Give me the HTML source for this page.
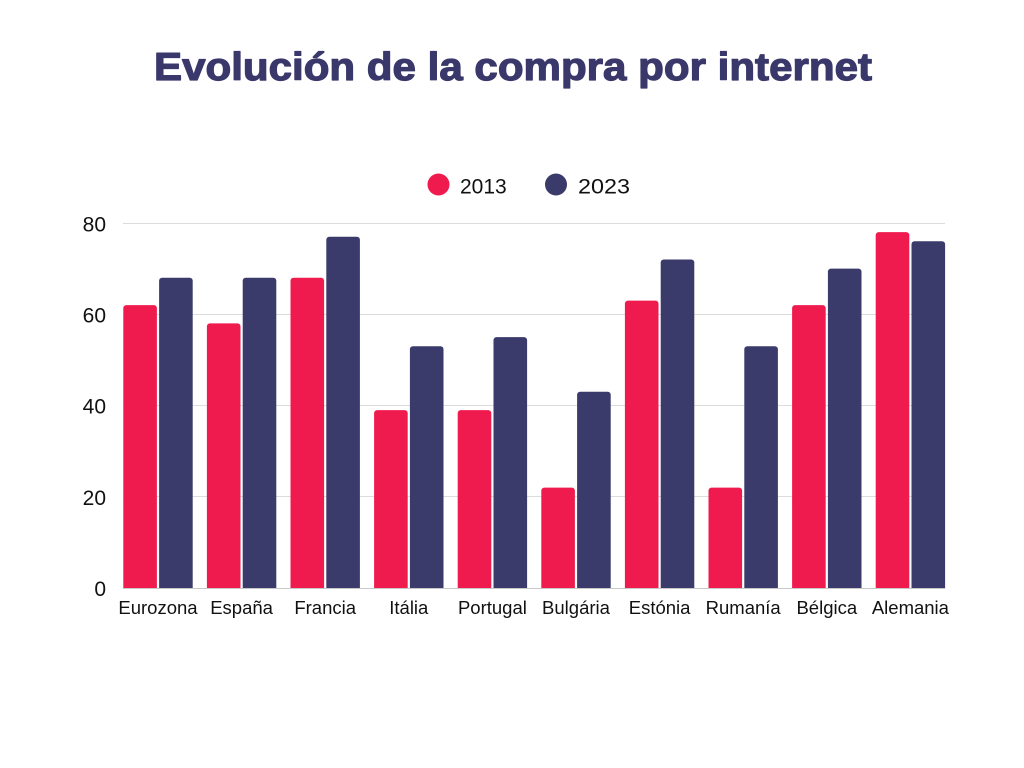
<!DOCTYPE html>
<html>
<head>
<meta charset="utf-8">
<style>
html,body{margin:0;padding:0;background:#fff;}
svg{display:block;}
text{font-family:"Liberation Sans",sans-serif;}
</style>
</head>
<body>
<svg width="1024" height="768" viewBox="0 0 1024 768" xmlns="http://www.w3.org/2000/svg">
<defs>
<clipPath id="cp"><rect x="0" y="0" width="1024" height="588.5"/></clipPath>
</defs>
<rect width="1024" height="768" fill="#fff"/>
<text x="513" y="80" text-anchor="middle" font-size="39" font-weight="bold" fill="#3a386b" stroke="#3a386b" stroke-width="1.2" stroke-linejoin="round" textLength="718" lengthAdjust="spacingAndGlyphs">Evolución de la compra por internet</text>
<!-- legend -->
<circle cx="438.5" cy="184.5" r="11" fill="#ef1b4f"/>
<text x="460" y="193.5" font-size="21" fill="#111">2013</text>
<circle cx="556" cy="184.5" r="11" fill="#3a3a6b"/>
<text x="578" y="193.5" font-size="21" fill="#111" textLength="52" lengthAdjust="spacingAndGlyphs">2023</text>
<!-- gridlines -->
<g stroke="#dcdcdc" stroke-width="1">
<line x1="123" y1="223.5" x2="945" y2="223.5"/>
<line x1="123" y1="314.5" x2="945" y2="314.5"/>
<line x1="123" y1="405.5" x2="945" y2="405.5"/>
<line x1="123" y1="496.5" x2="945" y2="496.5"/>
</g>
<!-- y labels -->
<g font-size="21" fill="#111" text-anchor="end">
<text x="106" y="231.5">80</text>
<text x="106" y="322.5">60</text>
<text x="106" y="413.5">40</text>
<text x="106" y="505">20</text>
<text x="106" y="596">0</text>
</g>
<!-- bars -->
<g clip-path="url(#cp)">
<g fill="#ef1b4f">
<rect x="123.3" y="305.1" width="33.6" height="290" rx="3"/>
<rect x="206.9" y="323.4" width="33.6" height="290" rx="3"/>
<rect x="290.5" y="277.75" width="33.6" height="320" rx="3"/>
<rect x="374.1" y="410.1" width="33.6" height="190" rx="3"/>
<rect x="457.7" y="410.1" width="33.6" height="190" rx="3"/>
<rect x="541.3" y="487.6" width="33.6" height="110" rx="3"/>
<rect x="624.9" y="300.6" width="33.6" height="300" rx="3"/>
<rect x="708.5" y="487.6" width="33.6" height="110" rx="3"/>
<rect x="792.1" y="305.1" width="33.6" height="290" rx="3"/>
<rect x="875.7" y="232.1" width="33.6" height="370" rx="3"/>
</g>
<g fill="#3a3a6b">
<rect x="159.1" y="277.75" width="33.6" height="320" rx="3"/>
<rect x="242.7" y="277.75" width="33.6" height="320" rx="3"/>
<rect x="326.3" y="236.7" width="33.6" height="360" rx="3"/>
<rect x="409.9" y="346.2" width="33.6" height="250" rx="3"/>
<rect x="493.5" y="337.1" width="33.6" height="260" rx="3"/>
<rect x="577.1" y="391.8" width="33.6" height="210" rx="3"/>
<rect x="660.7" y="259.5" width="33.6" height="340" rx="3"/>
<rect x="744.3" y="346.2" width="33.6" height="250" rx="3"/>
<rect x="827.9" y="268.6" width="33.6" height="330" rx="3"/>
<rect x="911.5" y="241.25" width="33.6" height="360" rx="3"/>
</g>
</g>
<line x1="123" y1="588.5" x2="945" y2="588.5" stroke="#c8c8c8" stroke-width="1"/>
<!-- x labels -->
<g font-size="18.5" fill="#111" text-anchor="middle">
<text x="158" y="614">Eurozona</text>
<text x="241.6" y="614">España</text>
<text x="325.2" y="614">Francia</text>
<text x="408.8" y="614">Itália</text>
<text x="492.4" y="614">Portugal</text>
<text x="576" y="614">Bulgária</text>
<text x="659.6" y="614">Estónia</text>
<text x="743.2" y="614">Rumanía</text>
<text x="826.8" y="614">Bélgica</text>
<text x="910.4" y="614">Alemania</text>
</g>
</svg>
</body>
</html>
